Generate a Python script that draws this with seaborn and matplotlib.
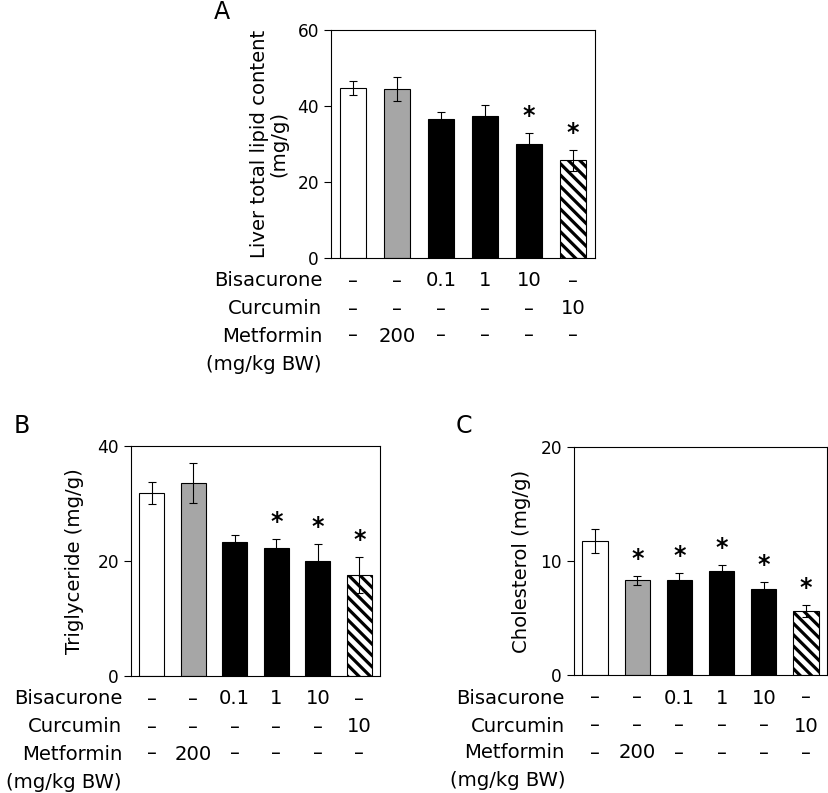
import numpy as np
import pandas as pd
import seaborn as sns
import matplotlib.pyplot as plt
from matplotlib.transforms import blended_transform_factory

groups = ["Control", "Metformin", "Bis 0.1", "Bis 1", "Bis 10", "Curcumin"]
bar_colors = ["white", "#a6a6a6", "black", "black", "black", "white"]

lipid_mean = [44.8, 44.4, 36.6, 37.5, 30.1, 25.7]
lipid_sem = [1.9, 3.2, 1.8, 2.7, 2.9, 2.8]
lipid_sig = [False, False, False, False, True, True]

tg_mean = [31.8, 33.6, 23.3, 22.2, 20.0, 17.6]
tg_sem = [1.95, 3.5, 1.2, 1.6, 3.0, 3.1]
tg_sig = [False, False, False, True, True, True]

chol_mean = [11.73, 8.3, 8.33, 9.15, 7.54, 5.6]
chol_sem = [1.05, 0.4, 0.6, 0.47, 0.6, 0.5]
chol_sig = [False, True, True, True, True, True]

bisacurone_row = ["–", "–", "0.1", "1", "10", "–"]
curcumin_row = ["–", "–", "–", "–", "–", "10"]
metformin_row = ["–", "200", "–", "–", "–", "–"]
row_names = ["Bisacurone", "Curcumin", "Metformin", "(mg/kg BW)"]

DPI = 136
PX = 72 / DPI  # points per pixel
FS = 10.4

sns.set_style("ticks")
plt.rcParams["font.family"] = ["DejaVu Sans"]
plt.rcParams["text.color"] = "black"
plt.rcParams["axes.labelcolor"] = "black"
plt.rcParams["ytick.labelcolor"] = "black"
plt.rcParams["hatch.linewidth"] = 3.2 * PX
plt.rcParams["axes.linewidth"] = 1.1 * PX
plt.rcParams["ytick.major.width"] = 1.1 * PX
plt.rcParams["ytick.major.size"] = 7 * PX
plt.rcParams["ytick.major.pad"] = 5 * PX
plt.rcParams["ytick.labelsize"] = 9
plt.rcParams["axes.edgecolor"] = "black"
plt.rcParams["ytick.color"] = "black"

fig = plt.figure(figsize=(828 / DPI, 793 / DPI), dpi=DPI)


def panel(rect, mean, sem, sig, ylim, yticks, ylabel, labelpad):
    ax = fig.add_axes(rect)
    df = pd.DataFrame({"group": groups, "value": mean})
    sns.barplot(data=df, x="group", y="value", hue="group", order=groups,
                hue_order=groups, palette=bar_colors, legend=False, width=0.6,
                edgecolor="black", linewidth=1.1 * PX, errorbar=None, ax=ax)
    ax.patches[5].set_hatch("\\\\\\\\")
    ax.errorbar(np.arange(len(groups)), mean, yerr=sem, fmt="none",
                ecolor="black", elinewidth=1.1 * PX, capsize=3.6 * PX,
                capthick=1.1 * PX, zorder=3)
    for i, (m, e, s) in enumerate(zip(mean, sem, sig)):
        if s:
            ax.annotate("*", xy=(i, m + e), xytext=(0, 5 * PX),
                        textcoords="offset points", ha="center", va="bottom",
                        fontsize=12.5, fontweight="bold")
    ax.set_xlim(-0.5, len(groups) - 0.5)
    ax.set_ylim(*ylim)
    ax.set_yticks(yticks)
    ax.set_xticks([])
    ax.set_xlabel("")
    ax.set_ylabel(ylabel, fontsize=FS, labelpad=labelpad, linespacing=1.0)
    for sp in ax.spines.values():
        sp.set_visible(True)

    trans = blended_transform_factory(ax.transData, ax.transAxes)
    offsets = [23, 51, 78, 106]
    for row, dy in zip([bisacurone_row, curcumin_row, metformin_row], offsets):
        for i, t in enumerate(row):
            ax.annotate(t, xy=(i, 0), xycoords=trans, xytext=(0, -dy * PX),
                        textcoords="offset points", ha="center", va="center",
                        fontsize=FS, annotation_clip=False)
    for name, dy in zip(row_names, offsets):
        ax.annotate(name, xy=(0, 0), xycoords="axes fraction",
                    xytext=(-9 * PX, -dy * PX), textcoords="offset points",
                    ha="right", va="center", fontsize=FS, annotation_clip=False)
    return ax


W, H = 828, 793


def rect(x0, x1, y0, y1):
    return [x0 / W, 1 - y1 / H, (x1 - x0) / W, (y1 - y0) / H]


panel(rect(331, 595, 30, 258), lipid_mean, lipid_sem, lipid_sig, (0, 60),
      [0, 20, 40, 60], "Liver total lipid content\n(mg/g)", 5)
panel(rect(131, 380, 446, 676), tg_mean, tg_sem, tg_sig, (0, 40),
      [0, 20, 40], "Triglyceride (mg/g)", 7)
panel(rect(574, 827, 447, 675), chol_mean, chol_sem, chol_sig, (0, 20),
      [0, 10, 20], "Cholesterol (mg/g)", 5)

fig.text(222 / W, 1 - 12 / H, "A", fontsize=12.5, ha="center", va="center")
fig.text(22 / W, 1 - 426 / H, "B", fontsize=12.5, ha="center", va="center")
fig.text(464 / W, 1 - 426 / H, "C", fontsize=12.5, ha="center", va="center")

fig.savefig("out.png", dpi=DPI)
